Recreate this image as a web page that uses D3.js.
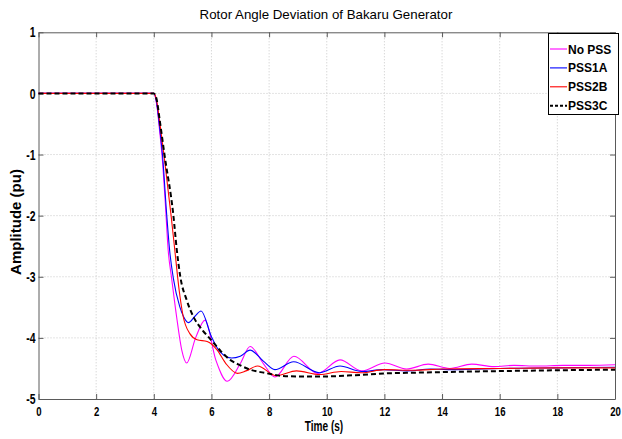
<!DOCTYPE html>
<html>
<head>
<meta charset="utf-8">
<script src="https://cdn.jsdelivr.net/npm/d3@7"></script>
<style>
  body { margin: 0; background: #fff; }
  svg { display: block; }
</style>
</head>
<body>
<div class="chart"></div>
<script>
// Tick values
var timeTicks = [0, 2, 4, 6, 8, 10, 12, 14, 16, 18, 20];
var ampTicks = [1, 0, -1, -2, -3, -4, -5];

// Series (time in s, amplitude in pu)
var noPssTime = [0, 4.0, 4.1, 4.2, 4.3, 4.4, 4.5, 4.62, 4.79, 4.97, 5.14, 5.45, 5.78, 6.15, 6.55, 7.0, 7.34, 7.8, 8.2, 8.86, 9.69, 10.46, 11.21, 12.02, 12.77, 13.52, 14.27, 15.03, 15.8, 16.5, 17.3, 18.2, 19.1, 20];
var noPssValue = [0, 0, -0.18, -0.6, -1.1, -1.8, -2.57, -3.03, -3.65, -4.2, -4.41, -4.0, -3.71, -4.36, -4.71, -4.42, -4.14, -4.42, -4.64, -4.30, -4.58, -4.36, -4.54, -4.41, -4.51, -4.43, -4.50, -4.43, -4.47, -4.45, -4.46, -4.45, -4.45, -4.44];

var pss1aTime = [0, 4.0, 4.1, 4.2, 4.3, 4.45, 4.55, 4.68, 4.9, 5.03, 5.2, 5.42, 5.64, 6.0, 6.3, 6.7, 7.0, 7.34, 7.8, 8.2, 8.85, 9.75, 10.46, 11.21, 11.95, 12.8, 13.6, 14.5, 16, 18, 20];
var pss1aValue = [0, 0, -0.16, -0.55, -1.0, -2.0, -2.57, -3.03, -3.49, -3.65, -3.75, -3.65, -3.56, -3.98, -4.23, -4.33, -4.30, -4.2, -4.38, -4.52, -4.39, -4.57, -4.46, -4.55, -4.52, -4.54, -4.51, -4.52, -4.50, -4.49, -4.48];

var pss2bTime = [0, 4.0, 4.1, 4.2, 4.35, 4.6, 4.73, 4.88, 5.02, 5.25, 5.5, 5.85, 6.0, 6.2, 6.5, 6.9, 7.2, 7.6, 8.25, 8.95, 9.75, 10.5, 11.2, 12, 13, 14, 16, 18, 20];
var pss2bValue = [0, 0, -0.12, -0.45, -1.0, -2.0, -2.57, -3.22, -3.65, -3.93, -4.03, -4.06, -4.1, -4.2, -4.42, -4.58, -4.54, -4.46, -4.62, -4.54, -4.6, -4.55, -4.57, -4.52, -4.53, -4.51, -4.50, -4.49, -4.49];

var pss3cTime = [0, 4.0, 4.1, 4.2, 4.37, 4.68, 4.8, 4.92, 5.14, 5.37, 5.7, 6.0, 6.33, 6.65, 7.0, 7.34, 7.7, 8.05, 8.4, 9, 10, 11, 12.1, 13, 14, 15.05, 16.5, 18, 20];
var pss3cValue = [0, 0, -0.1, -0.42, -1.0, -2.0, -2.57, -3.0, -3.38, -3.65, -3.88, -4.04, -4.22, -4.36, -4.45, -4.52, -4.56, -4.59, -4.62, -4.63, -4.63, -4.61, -4.58, -4.57, -4.56, -4.55, -4.54, -4.53, -4.52];

var seriesNames = ["No PSS", "PSS1A", "PSS2B", "PSS3C"];
var seriesColors = ["#ff00ff", "#0000ff", "#ff0000", "#000000"];

function init() {
  var w = 622;
  var h = 439;
  var margin = { top: 32.3, right: 7, bottom: 40, left: 38.5 };
  var arial = "'Liberation Sans', Arial, sans-serif";
  // plain hyphen for negatives, like the original figure
  var fmt = function (d) { return String(d); };

  var xScale = d3.scaleLinear().domain([0, 20]).range([margin.left, w - margin.right]);
  var yScale = d3.scaleLinear().domain([-5, 1]).range([h - margin.bottom, margin.top]);

  var svg = d3.select(".chart").append("svg")
    .attr("width", w)
    .attr("height", h);

  // Grid lines
  svg.append("g").selectAll("line")
    .data(timeTicks.slice(1, -1))
    .enter().append("line")
    .attr("x1", function (d) { return xScale(d); })
    .attr("x2", function (d) { return xScale(d); })
    .attr("y1", yScale(1))
    .attr("y2", yScale(-5))
    .attr("stroke", "#c8c8c8")
    .attr("stroke-dasharray", "1,2");
  svg.append("g").selectAll("line")
    .data(ampTicks.slice(1, -1))
    .enter().append("line")
    .attr("x1", xScale(0))
    .attr("x2", xScale(20))
    .attr("y1", function (d) { return yScale(d); })
    .attr("y2", function (d) { return yScale(d); })
    .attr("stroke", "#c8c8c8")
    .attr("stroke-dasharray", "1,2");

  // Axes (ticks inward on all four sides)
  var xAxis = svg.append("g")
    .attr("transform", "translate(0," + yScale(-5) + ")")
    .call(d3.axisBottom(xScale).tickValues(timeTicks).tickFormat(fmt).tickSizeInner(-5).tickSizeOuter(0).tickPadding(8));
  var yAxis = svg.append("g")
    .attr("transform", "translate(" + xScale(0) + ",0)")
    .call(d3.axisLeft(yScale).tickValues(ampTicks).tickFormat(fmt).tickSizeInner(-5).tickSizeOuter(0).tickPadding(4));
  svg.append("g")
    .attr("transform", "translate(0," + yScale(1) + ")")
    .call(d3.axisTop(xScale).tickValues(timeTicks).tickSizeInner(-5).tickSizeOuter(0).tickFormat(""));
  svg.append("g")
    .attr("transform", "translate(" + xScale(20) + ",0)")
    .call(d3.axisRight(yScale).tickValues(ampTicks).tickSizeInner(-5).tickSizeOuter(0).tickFormat(""));

  svg.selectAll(".domain, .tick line").attr("stroke", "#5a5a5a");
  // the figure's tick labels are condensed, so squeeze them horizontally
  xAxis.selectAll("text")
    .style("font-family", arial)
    .style("font-size", "12px")
    .style("font-weight", "bold")
    .attr("fill", "#000")
    .attr("transform", "scale(0.8,1)");
  yAxis.selectAll("text")
    .style("font-family", arial)
    .style("font-size", "14.5px")
    .style("font-weight", "bold")
    .attr("fill", "#000")
    .attr("transform", "scale(0.72,1)");

  // Lines
  var series = [
    { name: seriesNames[0], time: noPssTime, value: noPssValue, color: seriesColors[0] },
    { name: seriesNames[1], time: pss1aTime, value: pss1aValue, color: seriesColors[1] },
    { name: seriesNames[2], time: pss2bTime, value: pss2bValue, color: seriesColors[2] },
    { name: seriesNames[3], time: pss3cTime, value: pss3cValue, color: seriesColors[3] }
  ];
  var line = d3.line()
    .x(function (d) { return xScale(d[0]); })
    .y(function (d) { return yScale(d[1]); })
    .curve(d3.curveMonotoneX);

  series.forEach(function (s, i) {
    var pts = s.time.map(function (t, k) { return [t, s.value[k]]; });
    svg.append("path")
      .datum(pts)
      .attr("fill", "none")
      .attr("stroke", s.color)
      .attr("stroke-width", i === 3 ? 2 : 1.1)
      .attr("stroke-dasharray", i === 3 ? "5,3" : null)
      .attr("d", line);
  });

  // Legend
  var lg = svg.append("g");
  lg.append("rect")
    .attr("x", 548.5)
    .attr("y", 33.5)
    .attr("width", 70)
    .attr("height", 81)
    .attr("fill", "#fff")
    .attr("stroke", "#000")
    .attr("stroke-width", 1);
  series.forEach(function (s, i) {
    var by = 53.5 + i * 18.9;
    lg.append("line")
      .attr("x1", 550)
      .attr("x2", 567)
      .attr("y1", by - 4.5)
      .attr("y2", by - 4.5)
      .attr("stroke", s.color)
      .attr("stroke-width", i === 3 ? 2 : 1.1)
      .attr("stroke-dasharray", i === 3 ? "3,2" : null);
    lg.append("text")
      .attr("x", 568)
      .attr("y", by)
      .style("font-family", arial)
      .style("font-size", "12px")
      .style("font-weight", "bold")
      .text(s.name);
  });

  // Title and axis labels
  svg.append("text")
    .attr("x", 326)
    .attr("y", 19.3)
    .attr("text-anchor", "middle")
    .style("font-family", arial)
    .style("font-size", "13.3px")
    .text("Rotor Angle Deviation of Bakaru Generator");
  svg.append("text")
    .attr("transform", "translate(324,430.5) scale(0.72,1)")
    .attr("text-anchor", "middle")
    .style("font-family", arial)
    .style("font-size", "14px")
    .style("font-weight", "bold")
    .text("Time (s)");
  svg.append("text")
    .attr("transform", "rotate(-90)")
    .attr("x", -222)
    .attr("y", 21)
    .attr("text-anchor", "middle")
    .style("font-family", arial)
    .style("font-size", "15px")
    .style("font-weight", "bold")
    .text("Amplitude (pu)");
}
window.onload = init;
</script>
</body>
</html>
